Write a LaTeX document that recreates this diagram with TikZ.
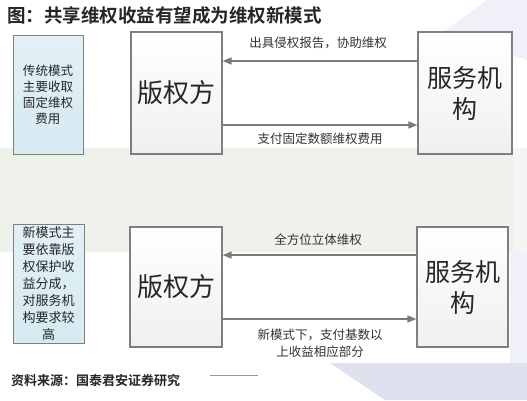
\documentclass[tikz,border=0pt]{standalone}
\usepackage{fontspec}
\setmainfont{Noto Sans CJK SC}
\newfontfamily\cjkb{Noto Sans CJK SC Bold}
\usetikzlibrary{arrows.meta,calc}
\definecolor{boxline}{HTML}{7F7F7F}
\definecolor{arrline}{HTML}{7A7A7A}
\definecolor{bluefill}{HTML}{D6EAF2}
\definecolor{bandcol}{HTML}{EEF2EA}
\definecolor{lav}{HTML}{DDE2EE}
\definecolor{lavlight}{HTML}{F0F0F8}
\begin{document}
\begin{tikzpicture}[x=1pt,y=-1pt,
  partybox/.style={draw=boxline,line width=1.3pt,rectangle,inner sep=0pt,
    top color=white,bottom color=gray!12,align=center,text=black!85},
  notebox/.style={draw=boxline,line width=1pt,rectangle,inner sep=0pt,
    top color=bluefill!70,bottom color=bluefill,align=center,text=black!85},
  arr/.style={draw=arrline,line width=1.4pt,-{Triangle[length=9pt,width=7pt]}},
  lbl/.style={font=\fontsize{12.5}{17}\selectfont,text=black!80,align=center,inner sep=0pt}
]
\useasboundingbox (0,0) rectangle (527,400);
\fill[white] (0,0) rectangle (527,400);
% background decorations
\fill[lavlight] (443,32) -- (487,0) -- (527,0) -- (527,60) -- cycle;
\fill[bandcol] (0,148) rectangle (527,252);
\fill[black!4] (513,148) rectangle (527,252);
\fill[lavlight] (510,252) rectangle (527,363);
\fill[lav] (330,363) -- (527,363) -- (527,400) -- (385,400) -- cycle;

% title
\node[anchor=west,inner sep=0pt,font=\cjkb\fontsize{18.5}{20}\selectfont,text=black!85] (title) at (7,15) {图：共享维权收益有望成为维权新模式};

% top part
\node[notebox,minimum width=70pt,minimum height=119pt,font=\fontsize{12.5}{16}\selectfont] (n1) at (48,94.5) {传统模式\\主要收取\\固定维权\\费用};
\node[partybox,minimum width=91pt,minimum height=122pt,font=\fontsize{26}{31}\selectfont] (b1) at (176.5,93) {版权方};
\node[partybox,minimum width=94pt,minimum height=122pt,font=\fontsize{25}{31}\selectfont] (s1) at (465,93) {服务机\\构};
\coordinate (y1) at (0,61);
\coordinate (y2) at (0,125);
\draw[arr] (s1.west |- y1) -- (b1.east |- y1);
\draw[arr] (b1.east |- y2) -- (s1.west |- y2);
\node[lbl] (l1) at (318,43) {出具侵权报告，协助维权};
\node[lbl] (l2) at (320,139) {支付固定数额维权费用};

% bottom part
\node[notebox,minimum width=71pt,minimum height=119pt,font=\fontsize{13}{17}\selectfont] (n2) at (48.5,283.5) {新模式主\\要依靠版\\权保护收\\益分成，\\对服务机\\构要求较\\高};
\node[partybox,minimum width=92pt,minimum height=120pt,font=\fontsize{26}{31}\selectfont] (b2) at (176,287) {版权方};
\node[partybox,minimum width=91pt,minimum height=120pt,font=\fontsize{25}{31}\selectfont] (s2) at (462.5,287) {服务机\\构};
\coordinate (y3) at (0,255);
\coordinate (y4) at (0,319);
\draw[arr] (s2.west |- y3) -- (b2.east |- y3);
\draw[arr] (b2.east |- y4) -- (s2.west |- y4);
\node[lbl] (l3) at (318,240) {全方位立体维权};
\node[lbl] (l4) at (320,343.5) {新模式下，支付基数以\\上收益相应部分};

% footer
\node[anchor=west,inner sep=0pt,font=\cjkb\fontsize{13}{15}\selectfont,text=black!85] (src) at (11,381) {资料来源：国泰君安证券研究};
\coordinate (r1) at (210,375);
\coordinate (r2) at (258,375);
\draw[black!40,line width=0.8pt] (r1) -- (r2);
\end{tikzpicture}
\end{document}
